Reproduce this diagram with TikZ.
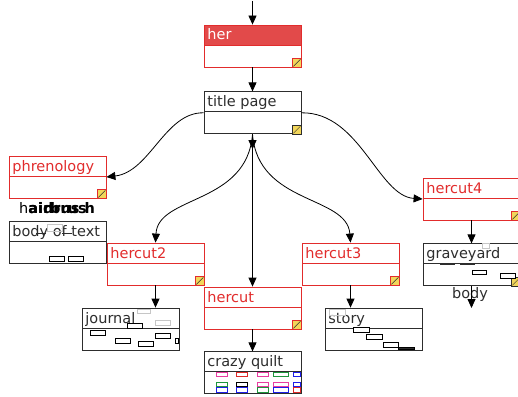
\documentclass[tikz,border=0pt]{standalone}
\usepackage{fontspec}
\setmainfont{DejaVu Sans}
\usetikzlibrary{arrows.meta,positioning}

\definecolor{notered}{RGB}{226,44,44}
\definecolor{herfill}{RGB}{226,74,74}
\definecolor{iconyellow}{RGB}{242,214,90}
\definecolor{inkgray}{RGB}{45,45,45}
\definecolor{quiltpink}{RGB}{232,60,160}
\definecolor{quiltred}{RGB}{222,40,40}
\definecolor{quiltgreen}{RGB}{30,150,60}
\definecolor{quiltblue}{RGB}{30,30,232}

\newcommand{\notefont}{\fontsize{14.5pt}{17pt}\selectfont}
% small yellow corner mark of a note
\newcommand{\noteicon}[2]{%
  \draw[#2, fill=iconyellow, line width=0.6pt] ([shift={(-9pt,0pt)}]#1.south east) rectangle ([shift={(0pt,9pt)}]#1.south east);
  \draw[inkgray, line width=0.5pt] ([shift={(-8pt,1pt)}]#1.south east) -- ([shift={(-1pt,8pt)}]#1.south east);}

\begin{document}
\begin{tikzpicture}[
    x=1pt, y=-1pt,
    node distance=24pt,
    notebox/.style n args={4}{draw=#1, fill=white, line width=0.8pt, minimum width=97pt, minimum height=42pt, inner sep=0pt,
      path picture={
        \fill[#2] (path picture bounding box.north west) rectangle ([yshift=-20pt]path picture bounding box.north east);
        \draw[#1, line width=0.8pt] ([yshift=-20pt]path picture bounding box.north west) -- ([yshift=-20pt]path picture bounding box.north east);
        \node[anchor=base west, minimum width=0pt, minimum height=0pt, inner sep=0pt, text=#3, font=\notefont] at ([shift={(3pt,-15pt)}]path picture bounding box.north west) {#4};
      }},
    rednote/.style={notebox={notered}{white}{notered}{#1}},
    plainnote/.style={notebox={inkgray}{white}{inkgray}{#1}},
    arrow/.style={-{Triangle[length=9pt,width=8pt]}, line width=0.8pt},
    minibox/.style={draw=black, fill=white, line width=0.8pt},
    ghostbox/.style={draw=gray!45, line width=0.6pt},
]
\useasboundingbox (0,0) rectangle (518,396);

\coordinate (entry) at (252.5,1);
\node[notebox={notered}{herfill}{white}{her}] (her) at (252.5,46) {};
\node[plainnote={title page}, below=of her] (tp) {};
\node[rednote=phrenology] (phren) at (57.5,177) {};
\node[rednote=hercut4] (hc4) at (471.5,199) {};
\node[rednote=hercut2] (hc2) at (155.5,264) {};
\node[rednote=hercut3] (hc3) at (350.5,264) {};
\node[rednote=hercut] (hc) at (252.5,308) {};
\node[plainnote={body of text}] (bodytext) at (57.5,242.5) {};
\node[plainnote=journal] (journal) at (130.5,329) {};
\node[plainnote={crazy quilt}, below=22pt of hc] (quilt) {};
\node[plainnote=story] (story) at (373.5,329) {};
\node[plainnote=graveyard, below=23pt of hc4] (grave) {};

\noteicon{her}{notered}
\noteicon{tp}{inkgray}
\noteicon{phren}{notered}
\noteicon{hc4}{notered}
\noteicon{hc2}{notered}
\noteicon{hc3}{notered}
\noteicon{hc}{notered}
\noteicon{grave}{inkgray}

% links
\draw[arrow] (entry) -- (her);
\draw[arrow] (her) -- (tp);
\draw[arrow] (tp.south) -- ++(0,15);
\draw[arrow] (tp.south) -- (hc.north);
\draw[arrow] (tp.west) .. controls (165,112) and (150,172) .. (phren.east);
\draw[arrow] (tp.east) .. controls (360,112) and (378,196) .. (hc4.west);
\draw[arrow] (tp.south) .. controls (247,205) and (158,195) .. (hc2.north);
\draw[arrow] (tp.south) .. controls (258,205) and (347,195) .. (hc3.north);
\draw[arrow] (hc2) -- (journal.north -| hc2);
\draw[arrow] (hc) -- (quilt);
\draw[arrow] (hc3) -- (story.north -| hc3);
\draw[arrow] (hc4) -- (grave);

% link labels
\node[font=\notefont, inner sep=0pt] (phrenlabel) at (57,208) {h\rlap{\bfseries airbrus}\bfseries aidrus h};
\node[font=\notefont, inner sep=0pt, text=inkgray] (bodylabel) at (470,294) {body};
\coordinate (graveout) at (471.5,308);
\draw[arrow] (grave.south) -- (graveout);

% contents of the container notes
\draw[ghostbox] (47,224) rectangle (62,231);
\draw[minibox] (49,256) rectangle (64,261);
\draw[minibox] (68,256) rectangle (83,261);
\draw[inkgray, line width=0.8pt] (36,233) -- (46,233) (62,233) -- (72,233);

\draw[ghostbox] (137,309) rectangle (150,313);
\draw[ghostbox] (155,320) rectangle (170,325);
\draw[minibox] (127,323) rectangle (142,328);
\draw[minibox] (90,330) rectangle (105,335);
\draw[minibox] (115,338) rectangle (130,343);
\draw[minibox] (138,341) rectangle (153,346);
\draw[minibox] (155,333) rectangle (170,338);
\draw[minibox] (175,338) rectangle (178,343);

\draw[ghostbox] (329,309) rectangle (345,315);
\draw[minibox] (353,327) rectangle (369,332);
\draw[minibox] (366,334) rectangle (382,339);
\draw[minibox] (383,342) rectangle (398,347);
\draw[minibox, fill=inkgray] (398,347) rectangle (414,349);

\draw[ghostbox] (482,243) rectangle (489,248);
\draw[inkgray, line width=0.8pt] (440,264) -- (455,264) (460,264) -- (475,264);
\draw[minibox] (472,270) rectangle (486,274);
\draw[minibox] (500,273) rectangle (515,278);

\foreach \x/\c in {216/quiltpink, 236/quiltred, 257/quiltpink}
  \draw[\c, line width=0.9pt] (\x,372) rectangle ++(11,4);
\draw[quiltgreen, line width=0.9pt] (273,372) rectangle (288,376);
\draw[quiltblue, line width=0.9pt] (293,372) rectangle (300,376);
\foreach \x/\c in {216/quiltgreen, 236/black, 257/quiltpink}
  \draw[\c, line width=0.9pt] (\x,382) rectangle ++(11,4);
\draw[quiltpink, line width=0.9pt] (273,382) rectangle (288,386);
\draw[quiltblue, line width=0.9pt] (293,382) rectangle (300,386);
\foreach \x/\c in {216/quiltblue, 236/quiltblue, 257/quiltgreen}
  \draw[\c, line width=0.9pt] (\x,387) rectangle ++(11,5);
\draw[quiltblue, line width=0.9pt] (273,387) rectangle (288,392);
\draw[quiltred, line width=0.9pt] (293,387) rectangle (300,392);
\end{tikzpicture}
\end{document}
